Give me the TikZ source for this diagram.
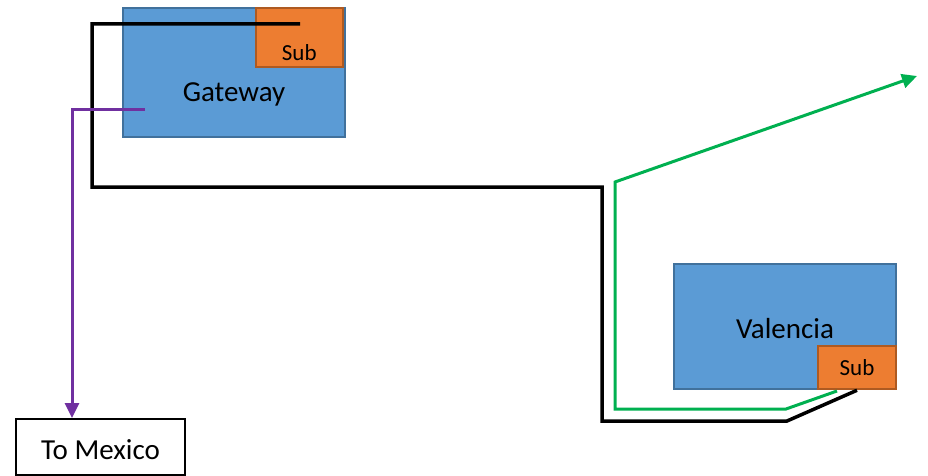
\documentclass[tikz,border=0pt]{standalone}
\usepackage{fontspec}
\setmainfont{Carlito}
\usetikzlibrary{positioning}
\usetikzlibrary{arrows.meta}
\definecolor{sitefill}{RGB}{91,155,213}
\definecolor{siteedge}{RGB}{65,113,156}
\definecolor{subfill}{RGB}{237,125,49}
\definecolor{subedge}{RGB}{174,90,33}
\definecolor{linkgreen}{RGB}{0,176,80}
\definecolor{linkpurple}{RGB}{112,48,160}

\begin{document}
\begin{tikzpicture}[
            x = 1pt, y = -1pt, % pixel units, y down
            > = {Triangle[length=15pt, width=14pt]}, % arrow head style
            line join = miter
        ]

        \tikzstyle{site}=[
            draw = siteedge,
            fill = sitefill,
            line width = 2.5pt,
            inner sep = 0pt,
            font = \fontsize{29}{34}\selectfont
        ]
        \tikzstyle{sub}=[
            draw = subedge,
            fill = subfill,
            line width = 2.5pt,
            inner sep = 0pt,
            font = \fontsize{23}{27}\selectfont
        ]
        \tikzstyle{link}=[line width = 3.5pt]

        \useasboundingbox (0,0) rectangle (928,476);

	% sites
        \node[site, minimum width=222pt, minimum height=129pt,
              label={[font=\fontsize{29}{34}\selectfont, yshift=-22pt]center:Gateway}] (gw) at (234,72.5) {};
        \node[sub, minimum width=87pt, minimum height=59pt,
              label={[font=\fontsize{23}{27}\selectfont, yshift=-15pt]center:Sub}] (gwsub) [anchor=north east] at (344,7) {};

        \node[site, minimum width=222pt, minimum height=125pt] (val) at (785,326.5) {\raisebox{-2pt}[\height][\depth]{Valencia}};
        \node[sub, minimum width=78pt, minimum height=43pt] (valsub) [anchor=south east] at (val.south east) {Sub};

        \node[draw, line width=2pt, minimum width=169pt, minimum height=56pt,
              inner sep=0pt, font=\fontsize{29}{34}\selectfont] (mex) at (100.5,447) {\raisebox{-3pt}[\height][\depth]{To Mexico}};

         % links
         \coordinate (bk) at (300,24);
         \coordinate (gr) at (837,391);
         \coordinate (grend) at (917,76);
         \coordinate (pu) at (145,110);

         \draw[link] (bk) -- (92,24) -- (92,187) -- (602,187) -- (602,421) -- (787,421) -- (valsub.south);
         \draw[link, linkgreen, line width=3pt, ->] (gr) -- (786,409) -- (615,409) -- (615,182) -- (grend);
         \draw[link, linkpurple, line width=3pt, ->] (pu) -- (72,110) -- (mex.north -| 72,0);

  \end{tikzpicture}
\end{document}
